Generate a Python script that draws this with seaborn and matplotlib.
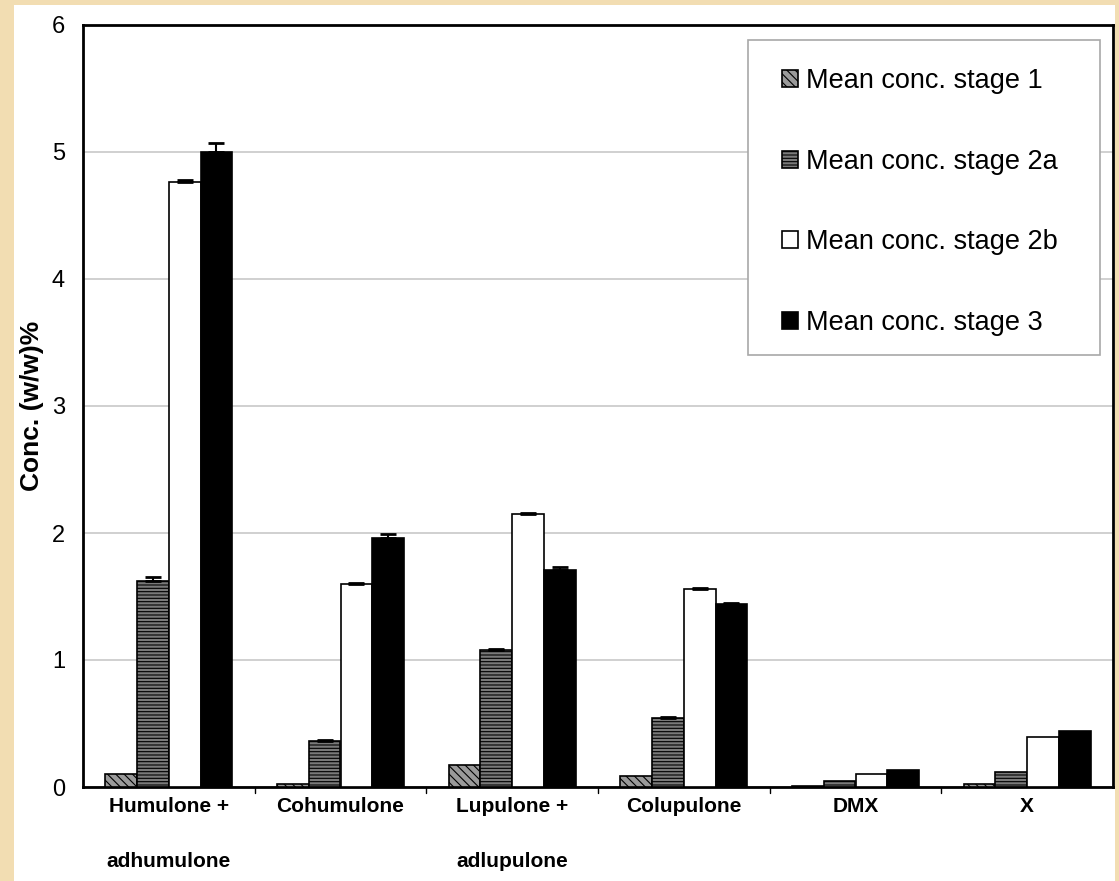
import pandas as pd
import matplotlib
matplotlib.use('Agg')
import matplotlib.pyplot as plt
import seaborn as sns
from matplotlib.patches import Rectangle

# Compounds and stages
compounds = ['Humulone +\nadhumulone', 'Cohumulone', 'Lupulone +\nadlupulone',
             'Colupulone', 'DMX', 'X']
stages = ['Mean conc. stage 1', 'Mean conc. stage 2a',
          'Mean conc. stage 2b', 'Mean conc. stage 3']

# Mean concentrations (w/w)%
stage1 = [0.10, 0.02, 0.17, 0.09, 0.01, 0.02]
stage2a = [1.62, 0.36, 1.08, 0.54, 0.05, 0.12]
stage2b = [4.76, 1.60, 2.15, 1.56, 0.10, 0.39]
stage3 = [5.00, 1.96, 1.71, 1.44, 0.13, 0.44]

# Error bars (upper only)
err1 = [0.0, 0.0, 0.0, 0.0, 0.0, 0.0]
err2a = [0.03, 0.01, 0.01, 0.01, 0.0, 0.0]
err2b = [0.02, 0.01, 0.01, 0.01, 0.0, 0.0]
err3 = [0.07, 0.03, 0.02, 0.01, 0.0, 0.0]

values = [stage1, stage2a, stage2b, stage3]
errors = [err1, err2a, err2b, err3]

rows = []
for stage, vals in zip(stages, values):
    for comp, v in zip(compounds, vals):
        rows.append({'Compound': comp, 'Stage': stage, 'Conc': v})
df = pd.DataFrame(rows)

sns.set_style('white')
plt.rcParams['font.family'] = ['Liberation Sans', 'DejaVu Sans']
plt.rcParams['text.color'] = 'black'
plt.rcParams['hatch.linewidth'] = 0.8

fig = plt.figure(figsize=(11.19, 8.81), dpi=100, facecolor='#F2DDB2')
# white page area inside the beige border
fig.patches.append(Rectangle((14 / 1119, 0), (1115 - 14) / 1119, 1 - 5 / 881,
                             transform=fig.transFigure, facecolor='white',
                             edgecolor='none', zorder=-10))
ax = fig.add_axes([83 / 1119, 1 - 787 / 881, 1030 / 1119, 762 / 881])

fill_colors = {stages[0]: '#9a9a9a', stages[1]: '#7a7a7a',
               stages[2]: 'white', stages[3]: 'black'}
sns.barplot(data=df, x='Compound', y='Conc', hue='Stage', palette=fill_colors,
            width=0.74, edgecolor='black', linewidth=1.2, errorbar=None,
            saturation=1, legend=False, ax=ax)

hatches = ['\\\\\\\\', '-----', '', '']
for cont, hatch, errs in zip(ax.containers, hatches, errors):
    for bar, e in zip(cont.patches, errs):
        bar.set_hatch(hatch)
        bar.set_zorder(3)
        if e > 0:
            xc = bar.get_x() + bar.get_width() / 2
            ax.errorbar(xc, bar.get_height(), yerr=[[0], [e]], fmt='none',
                        ecolor='black', elinewidth=1.5, capsize=6,
                        capthick=2, zorder=4)

ax.set_ylim(0, 6)
ax.set_xlim(-0.5, len(compounds) - 0.5)
ax.set_yticks(range(0, 7))
ax.yaxis.grid(True, color='#c8c8c8', linewidth=1.2)
ax.set_axisbelow(True)
for s in ax.spines.values():
    s.set_color('black')
    s.set_linewidth(2)

ax.set_xlabel('')
ax.set_ylabel('Conc. (w/w)%', fontsize=19, fontweight='bold', color='black')
ax.yaxis.set_label_coords(-0.038, 0.5)
ax.tick_params(axis='y', labelsize=17, length=0, pad=13, labelcolor='black')
ax.tick_params(axis='x', labelsize=15, length=0, pad=7, labelcolor='black')
for lbl in ax.get_xticklabels():
    lbl.set_fontweight('bold')
    lbl.set_linespacing(3.45)
    lbl.set_verticalalignment('top')

# category boundary ticks
for b in range(1, len(compounds)):
    ax.plot([b - 0.5, b - 0.5], [0, -0.05], color='black', lw=1,
            clip_on=False)

# legend box drawn separately so it can be wider than its contents
ax.add_patch(Rectangle(((748 - 83) / 1030, (787 - 355) / 762),
                       (1100 - 748) / 1030, (355 - 40) / 762,
                       transform=ax.transAxes, facecolor='white',
                       edgecolor='#a8a8a8', linewidth=1.2, zorder=5))
leg = ax.legend(ax.containers, stages, loc='upper left',
                bbox_to_anchor=((782 - 83) / 1030, (787 - 68) / 762),
                fontsize=19.5, frameon=False, labelspacing=2.02,
                handlelength=0.6, handleheight=0.6, handletextpad=0.3,
                borderpad=0, borderaxespad=0)
leg.set_zorder(6)

fig.savefig('out.png', dpi=100, facecolor=fig.get_facecolor())
